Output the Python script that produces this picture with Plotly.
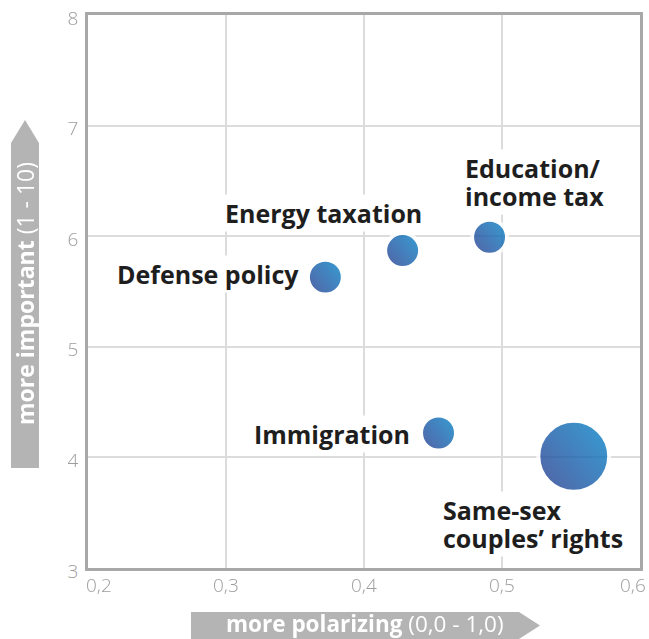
import plotly.graph_objects as go

# Issue positions: polarization (x) vs. importance (y), bubble weight
issues = ["Defense policy", "Energy taxation", "Education/\nincome tax",
          "Immigration", "Same-sex\ncouples’ rights"]
polarization = [0.372, 0.428, 0.491, 0.454, 0.552]
importance = [5.63, 5.87, 5.99, 4.22, 4.01]
weight = [1.0, 1.0, 1.0, 1.0, 4.1]

x_ticks = [0.2, 0.3, 0.4, 0.5, 0.6]
y_ticks = [3, 4, 5, 6, 7, 8]

DARK = "#2c3c8e"
LIGHT = "#0688cb"
FONT = "Open Sans"
SIZEREF = 1 / 612
TICK_FONT = dict(family=FONT, size=19, color="#9d9d9d", weight=300)
LABEL_PX = 25

fig = go.Figure()

# base bubbles: horizontal gradient, white outline breaks the grid lines
fig.add_trace(go.Scatter(
    x=polarization, y=importance, mode="markers",
    marker=dict(size=weight, sizemode="area", sizeref=SIZEREF,
                color=DARK, gradient=dict(type="horizontal", color=LIGHT),
                line=dict(color="white", width=4)),
    hoverinfo="skip", showlegend=False,
))
# half-transparent vertical gradient on top -> diagonal shading
fig.add_trace(go.Scatter(
    x=polarization, y=importance, mode="markers", opacity=0.5,
    marker=dict(size=weight, sizemode="area", sizeref=SIZEREF,
                color=LIGHT, gradient=dict(type="vertical", color=DARK),
                line=dict(color="white", width=4)),
    text=[t.replace("\n", " ") for t in issues],
    hovertemplate="%{text}<extra></extra>", showlegend=False,
))

# issue labels: anchor side, x offset, y offset (px)
label_style = [
    ("right", -24, 3),
    ("center", -79, 38),
    ("left", -27, 55),
    ("right", -27, -1),
    ("left", -133, -68),
]
for name, xv, yv, (anchor, dx, dy) in zip(issues, polarization, importance,
                                          label_style):
    lines = name.split("\n")
    # tight leading: base size sets line spacing, span sets glyph size
    text = "<br>".join(
        f"<span style='font-size:{LABEL_PX}px'><b>{ln}</b></span>"
        for ln in lines)
    base = LABEL_PX if len(lines) == 1 else 21.3
    fig.add_annotation(
        x=xv, y=yv, text=text, showarrow=False, align="left",
        font=dict(family=FONT, size=base, color="#1e1e1e"),
        bgcolor="white", xanchor=anchor, yanchor="middle",
        xshift=dx, yshift=dy,
    )

# x tick labels, the two end labels pulled inward
x_label_shift = [11, 0, 0, 0, -7]
for v, dx in zip(x_ticks, x_label_shift):
    fig.add_annotation(
        x=v, xref="x", y=0, yref="paper", yanchor="top",
        text=f"{v:.1f}".replace(".", ","), showarrow=False,
        xanchor="center", xshift=dx, yshift=-2, font=TICK_FONT,
    )

ARROW = "#b4b4b4"
# vertical arrow carrying the y axis title
fig.add_shape(type="path", xref="paper", yref="paper",
              path="M -0.1395 0.1808 L -0.0888 0.1808 L -0.0888 0.7685 "
                   "L -0.1141 0.8100 L -0.1395 0.7685 Z",
              fillcolor=ARROW, line=dict(width=0), layer="below")
fig.add_annotation(xref="paper", yref="paper", x=-0.1141, y=0.4955,
                   text="<b>more important</b> (1 - 10)", textangle=-90,
                   showarrow=False, xanchor="center", yanchor="middle",
                   font=dict(family=FONT, size=23, color="white"))
# horizontal arrow carrying the x axis title
fig.add_shape(type="path", xref="paper", yref="paper",
              path="M 0.1866 -0.0796 L 0.7808 -0.0796 L 0.8188 -0.1040 "
                   "L 0.7808 -0.1284 L 0.1866 -0.1284 Z",
              fillcolor=ARROW, line=dict(width=0), layer="below")
fig.add_annotation(xref="paper", yref="paper", x=0.5027, y=-0.1003,
                   text="<b>more polarizing</b> (0,0 - 1,0)",
                   showarrow=False, xanchor="center", yanchor="middle",
                   font=dict(family=FONT, size=22.5, color="white"))

axis_common = dict(
    showline=True, mirror=True, linecolor="#a8a8a8", linewidth=2.5,
    showgrid=True, gridcolor="#dcdcdc", gridwidth=1.5, zeroline=False,
    ticks="", automargin=False, fixedrange=True,
)
fig.update_xaxes(range=[x_ticks[0], x_ticks[-1]], tickvals=x_ticks,
                 showticklabels=False, **axis_common)
fig.update_yaxes(range=[y_ticks[0], y_ticks[-1]], tickvals=y_ticks,
                 tickfont=TICK_FONT, ticklabelstandoff=3, ticklabelshift=3,
                 **axis_common)

fig.update_layout(
    width=649, height=639,
    margin=dict(l=88, r=9, t=15, b=71),
    plot_bgcolor="white", paper_bgcolor="white",
    font=dict(family=FONT),
)

fig.write_html("out.html")
